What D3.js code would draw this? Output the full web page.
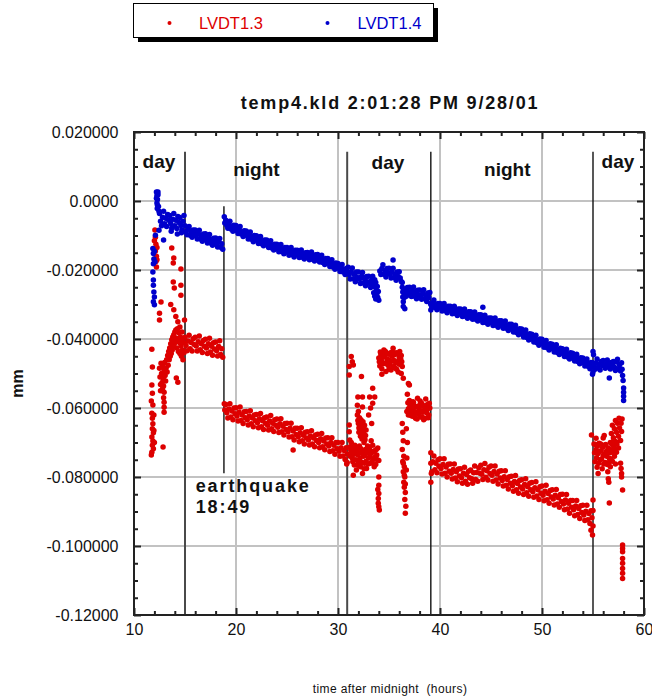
<!DOCTYPE html>
<html>
<head>
<meta charset="utf-8">
<script src="https://cdn.jsdelivr.net/npm/d3@7"></script>
<style>
  body { margin: 0; background: #fff; }
  svg { display: block; font-family: Arial, "Liberation Sans", Helvetica, sans-serif; }
</style>
</head>
<body>
<svg id="chart" width="652" height="700"></svg>
<script>
// LVDT displacement log, file temp4.kld.
// Displacements are in micrometres; hours are counted from midnight.
// Continuous logging runs: [first hour, readings taken every sampleHours].
const sampleHours = 0.1;
const seriesNames = ["LVDT1.3", "LVDT1.4"];

// ---------- LVDT1.3 (red) ----------
const lvdt13Runs = [
  [15.0, [-39.5,-41.9,-43.4,-40.6,-38.9,-42.8,-41.0,-43.5,-39.9,-41.6,
          -39.5,-42.0,-43.5,-40.8,-39.1,-43.1,-41.4,-43.9,-40.4,-42.1,
          -40.1,-42.6,-44.2,-41.4,-39.8,-43.8,-42.1,-44.7,-41.1,-42.9,
          -40.9,-43.4,-44.9,-42.2,-40.5,-44.5,-42.8,-45.3]],
  [18.9, [-60.6,
          -59.0,-61.4,-62.9,-60.3,-58.8,-62.6,-60.9,-63.4,-60.0,-61.7,
          -59.9,-62.3,-63.8,-61.2,-59.7,-63.6,-62.0,-64.5,-61.1,-62.8,
          -61.0,-63.4,-64.9,-62.3,-60.8,-64.6,-62.9,-65.4,-62.0,-63.7,
          -61.9,-64.3,-65.7,-63.1,-61.6,-65.4,-63.7,-66.2,-62.8,-64.4,
          -62.6,-65.0,-66.4,-63.8,-62.2,-66.0,-64.4,-66.8,-63.4,-65.0,
          -63.2,-65.6,-67.1,-64.6,-63.1,-66.9,-65.3,-67.8,-64.5,-66.2,
          -64.4,-66.9,-68.4,-65.9,-64.4,-68.3,-66.7,-69.3,-65.9,-67.7,
          -65.9,-68.3,-69.8,-67.2,-65.7,-69.5,-67.9,-70.4,-67.0,-68.7,
          -66.9,-69.3,-70.7,-68.1,-66.6,-70.4,-68.7,-71.2,-67.8,-69.4,
          -67.6,-70.0,-71.5,-68.9,-67.4,-71.2,-69.6,-72.1,-68.7,-70.4,
          -68.6,-71.0,-72.6,-70.0,-68.6,-72.4,-70.8,-73.4,-70.0,-71.8,
          -70.0,-72.5,-74.0,-71.5,-70.0,-73.9,-72.3,-74.9,-71.5,-73.3]],
  [39.2, [-78.5,-75.6,-73.9,-77.9,-76.0,-78.8,-75.0,-76.9,
          -74.7,-77.5,-79.1,-76.4,-74.7,-78.9,-77.1,-80.0,-76.3,-78.3,
          -76.2,-78.9,-80.6,-77.8,-76.2,-80.3,-78.5,-81.4,-77.7,-79.7,
          -77.6,-80.2,-81.8,-78.9,-77.2,-81.2,-79.3,-82.1,-78.3,-80.2,
          -78.0,-80.5,-81.8,-78.8,-76.8,-80.7,-78.7,-81.2,-77.3,-78.9,
          -76.6,-79.2,-80.7,-77.9,-76.1,-80.1,-78.2,-80.9,-77.2,-79.0,
          -76.8,-79.5,-81.2,-78.4,-76.8,-80.9,-79.1,-82.0,-78.3,-80.3,
          -78.2,-81.0,-82.6,-79.9,-78.2,-82.4,-80.7,-83.5,-79.9,-81.8,
          -79.8,-82.5,-84.1,-81.3,-79.6,-83.7,-81.9,-84.7,-81.0,-82.9,
          -80.8,-83.5,-85.1,-82.2,-80.5,-84.6,-82.8,-85.6,-81.8,-83.7,
          -81.6,-84.3,-85.9,-83.1,-81.4,-85.5,-83.7,-86.5,-82.8,-84.7,
          -82.6,-85.3,-86.9,-84.1,-82.4,-86.6,-84.8,-87.6,-83.9,-85.8,
          -83.7,-86.4,-88.1,-85.3,-83.6,-87.8,-86.0,-88.8,-85.1,-87.1,
          -85.0,-87.8,-89.5,-86.7,-85.1,-89.3,-87.6,-90.5,-86.8,-88.8,
          -86.8,-89.5,-91.2,-88.4,-86.8,-90.9,-89.1,-92.0,-88.3,-90.3,
          -88.2,-91.0,-92.6,-89.9,-88.2,-92.4,-90.6,-93.5,-89.8,-91.8,
          -89.7]]
];

// individual LVDT1.3 readings outside the steady runs: [hour, um]
const lvdt13Scatter = [
  [11.75,-43.0],[11.8,-48.1],[11.75,-53.3],[11.8,-55.7],[11.85,-59.1],[11.75,-61.5],[11.8,-63.0],[11.85,-64.6],
  [11.8,-66.0],[11.9,-67.2],[11.75,-68.4],[11.85,-69.6],[11.8,-70.8],[11.9,-71.8],[11.75,-72.8],[11.95,-66.5],
  [11.95,-62.0],[11.7,-58.0],[11.7,-73.6],[12.0,-70.0],
  [12.05,-8.4],[12.1,-10.5],[12.15,-12.5],[12.1,-14.5],[12.2,-16.0],[12.15,-17.5],[12.2,-19.1],[12.25,-13.5],
  [12.0,-11.5],[12.25,-17.0],
  [12.5,-48.5],[12.55,-51.0],[12.6,-53.2],[12.65,-47.0],[12.7,-50.0],[12.75,-52.6],[12.8,-48.0],[12.85,-51.4],
  [12.9,-53.6],[12.95,-49.2],[13.0,-46.8],[13.05,-50.6],[13.1,-52.2],[13.15,-48.4],[13.2,-46.0],[13.25,-49.6],
  [13.3,-44.8],[13.35,-47.6],[13.4,-43.6],[12.6,-55.0],[12.8,-54.4],
  [13.45,-46.0],[13.5,-42.6],[13.55,-45.0],[13.6,-41.4],[13.65,-44.2],[13.7,-40.2],[13.75,-43.2],[13.8,-39.4],
  [13.85,-42.2],[13.9,-38.8],[13.95,-41.4],[14.0,-38.0],[14.05,-40.8],[14.1,-37.4],[14.15,-39.8],[14.2,-42.6],
  [14.25,-37.0],[14.3,-40.0],[14.35,-43.6],[14.4,-38.2],[14.45,-41.0],[14.5,-44.2],[14.55,-39.4],[14.6,-42.0],
  [14.65,-45.0],[14.7,-40.0],[14.75,-43.2],[14.8,-46.0],[14.85,-41.0],[14.9,-44.0],
  [13.6,-30.0],[13.9,-31.5],[14.1,-33.5],[14.3,-35.0],[14.5,-36.5],[14.7,-38.0],[13.7,-13.6],[13.9,-16.5],
  [13.85,-18.0],[13.85,-23.5],[13.95,-25.2],[14.6,-19.7],[14.6,-24.4],[14.6,-27.3],[12.65,-29.3],[12.5,-34.5],
  [14.95,-34.5],[12.5,-32.5],
  [12.95,-55.4],[12.95,-58.3],[12.95,-61.2],[14.15,-51.3],[14.3,-52.5],[12.85,-71.3],[12.9,-57.0],[12.95,-59.8],
  [18.85,-58.8],[25.6,-72.2],[30.9,-75.8],[30.85,-76.2],
  // second day
  [31.3,-45.1],[31.4,-46.6],[31.1,-48.0],[31.5,-47.5],[31.1,-50.4],[32.3,-50.9],
  [31.1,-64.9],[31.1,-66.9],[31.15,-69.3],[31.2,-71.2],[31.25,-72.2],
  [31.3,-70.0],[31.4,-74.5],[31.5,-71.5],[31.6,-76.5],[31.7,-72.5],[31.8,-78.0],[31.9,-73.5],[32.0,-75.5],
  [32.1,-71.0],[32.2,-77.0],[32.3,-73.0],[32.4,-79.0],[32.5,-74.0],[32.6,-76.0],[32.7,-72.0],[32.8,-77.5],
  [31.5,-79.5],[31.2,-74.0],
  [31.35,-72.8],[31.45,-75.6],[31.55,-73.4],[31.65,-70.8],[31.75,-75.0],[31.85,-72.0],[31.95,-76.6],[32.05,-73.2],
  [32.15,-74.6],[32.25,-71.8],[32.35,-75.8],[32.45,-72.6],[32.55,-77.6],[32.65,-73.8],[32.75,-75.4],[32.85,-73.0],
  [32.95,-76.2],[33.05,-71.4],[33.15,-74.0],[33.35,-75.6],[33.45,-72.6],[33.65,-74.2],[33.75,-72.0],[33.85,-75.0],
  [31.95,-56.8],[32.4,-56.8],[31.9,-59.2],[32.4,-59.7],
  [31.9,-62.0],[32.0,-64.5],[32.05,-67.0],[32.1,-62.8],[32.15,-65.6],[32.2,-68.2],[32.25,-63.4],[32.3,-66.4],
  [32.35,-69.0],[32.45,-64.0],[32.5,-67.2],[32.55,-70.0],[32.6,-65.0],[32.7,-68.0],[32.0,-61.0],
  [31.95,-63.6],[32.05,-65.8],[32.15,-63.8],[32.25,-66.8],[32.35,-64.6],[32.45,-67.8],[32.55,-66.0],[32.65,-69.2],
  [32.75,-66.4],
  [32.9,-71.0],[33.0,-74.5],[33.1,-72.0],[33.2,-76.0],[33.3,-73.0],[33.4,-70.8],[33.5,-74.8],[33.6,-72.4],
  [33.7,-76.4],[33.8,-73.6],[33.9,-71.6],[34.0,-75.2],[33.25,-69.5],[33.55,-77.0],
  [33.4,-54.3],[33.1,-56.8],[33.4,-58.6],[33.6,-56.8],[33.0,-62.0],[33.2,-60.0],[33.3,-64.5],
  [34.0,-80.0],[34.0,-82.4],[34.0,-84.8],[33.95,-86.2],[33.95,-87.6],[34.0,-88.6],[34.05,-89.6],[33.9,-83.6],
  [34.0,-45.5],[34.1,-47.8],[34.2,-44.6],[34.3,-48.6],[34.4,-45.2],[34.5,-43.2],[34.6,-47.0],[34.7,-49.4],
  [34.8,-45.8],[34.9,-47.6],[35.0,-44.4],[35.1,-46.8],[35.2,-49.0],[35.3,-45.0],[35.4,-42.7],[35.5,-46.2],
  [35.6,-48.4],[35.7,-44.0],[35.8,-46.6],[35.9,-49.6],[36.0,-45.4],[36.1,-47.4],[36.2,-44.8],[36.3,-48.0],
  [34.3,-50.2],[35.0,-48.8],
  [34.05,-46.6],[34.15,-43.8],[34.25,-46.2],[34.35,-44.0],[34.45,-47.2],[34.55,-45.0],[34.65,-43.6],[34.75,-47.0],
  [34.85,-44.2],[34.95,-46.0],[35.05,-47.4],[35.15,-44.0],[35.25,-46.4],[35.35,-43.8],[35.45,-48.0],[35.55,-44.6],
  [35.65,-46.8],[35.75,-48.8],[35.85,-44.2],[35.95,-47.2],[36.05,-43.6],[36.15,-45.8],[36.25,-46.6],
  [36.2,-50.0],[36.4,-51.4],[36.9,-52.9],[37.0,-53.3],
  [36.3,-64.5],[36.35,-67.0],[36.4,-69.5],[36.3,-72.0],[36.45,-74.0],[36.35,-75.5],[36.5,-77.0],[36.4,-78.5],
  [36.55,-80.0],[36.45,-81.5],[36.5,-83.0],[36.6,-84.5],[36.55,-86.5],[36.65,-88.5],[36.6,-90.5],[36.4,-76.0],
  [36.5,-79.5],[36.6,-82.0],[36.7,-78.0],[36.75,-74.5],[36.8,-70.0],[36.7,-66.0],[36.8,-56.0],[36.85,-58.5],
  [36.9,-62.0],[36.75,-61.0],
  [36.9,-60.2],[37.0,-57.8],[37.1,-61.6],[37.2,-59.0],[37.3,-62.4],[37.4,-58.4],[37.5,-61.0],[37.6,-63.0],
  [37.7,-59.6],[37.8,-57.2],[37.9,-61.8],[38.0,-59.2],[38.1,-62.6],[38.2,-58.6],[38.3,-61.2],[38.4,-63.4],
  [38.5,-59.8],[38.6,-57.4],[38.7,-61.4],[38.8,-59.0],[38.9,-62.0],[39.0,-60.0],
  [36.95,-61.0],[37.05,-59.4],[37.15,-62.2],[37.25,-60.4],[37.35,-58.2],[37.45,-62.0],[37.55,-59.6],[37.65,-61.4],
  [37.75,-63.2],[37.85,-59.8],[37.95,-60.6],[38.05,-58.0],[38.15,-60.8],[38.25,-62.6],[38.35,-59.4],[38.45,-61.0],
  [38.55,-63.0],[38.65,-59.2],[38.75,-60.4],[38.85,-62.8],[38.95,-58.6],
  [39.1,-73.0],[39.1,-76.0],[39.15,-79.0],[39.1,-81.5],
  [54.8,-95.4],[54.95,-96.8],[55.0,-94.2],[55.0,-86.7],[54.85,-67.8],
  // third day
  [55.1,-70.4],[55.2,-75.6],[55.3,-72.0],[55.4,-77.2],[55.5,-73.2],[55.6,-70.2],[55.7,-75.0],[55.8,-72.4],
  [55.9,-77.6],[56.0,-73.8],[56.1,-70.8],[56.2,-75.8],[56.3,-72.6],[56.4,-76.4],[56.5,-71.6],[56.6,-74.6],
  [56.7,-77.0],[56.8,-72.2],[56.9,-75.4],[57.0,-71.0],[57.1,-74.0],[57.2,-76.2],[57.3,-72.8],[55.3,-68.8],
  [56.0,-68.7],[55.5,-79.0],
  [55.15,-73.0],[55.25,-70.6],[55.35,-74.4],[55.45,-71.0],[55.55,-76.0],[55.65,-72.6],[55.75,-70.4],[55.85,-74.8],
  [55.95,-71.4],[56.05,-76.2],[56.15,-73.4],[56.25,-70.6],[56.35,-74.0],[56.45,-72.2],[56.55,-75.8],[56.65,-73.0],
  [56.75,-74.8],[56.85,-70.4],[56.95,-72.8],[57.05,-69.4],[57.15,-71.8],[57.25,-69.8],[57.35,-70.4],
  [56.7,-70.0],[56.8,-67.4],[56.9,-65.0],[57.0,-68.6],[57.1,-66.0],[57.2,-63.6],[57.3,-67.0],[57.4,-64.4],
  [57.5,-68.2],[57.55,-63.0],[57.6,-65.8],[57.7,-69.4],[57.75,-64.4],[57.8,-66.8],[57.85,-63.2],[57.5,-71.6],
  [56.1,-68.0],
  [56.45,-78.5],[56.5,-80.5],[56.55,-81.5],[56.6,-87.5],[57.7,-76.0],[57.75,-77.5],[57.8,-79.0],[57.8,-80.0],
  [57.9,-83.8],
  [57.9,-99.7],[57.9,-100.7],[57.9,-101.7],[57.9,-103.6],[57.9,-105.0],[57.9,-106.5],[57.9,-107.9],[57.9,-109.4]
];

// ---------- LVDT1.4 (blue) ----------
const lvdt14Runs = [
  [12.5, [-3.6,-5.9,-7.2,-4.7,-3.0,-6.6,-5.0,-7.4,-3.9,-5.6,
          -4.2,-6.5,-7.8,-5.3,-3.6,-7.2,-5.6,-8.0,-4.5,-6.2,
          -4.8,-7.1,-8.4,-5.9,-4.2]],
  [15.0, [-7.2,-8.9,-9.8,-8.2,-7.4,-9.9,-8.9,-10.5,-8.4,-9.5,
          -8.4,-10.1,-11.0,-9.4,-8.5,-11.0,-10.1,-11.7,-9.6,-10.7,
          -9.5,-11.2,-12.2,-10.6,-9.7,-12.2,-11.2,-12.8,-10.8,-11.9,
          -10.7,-12.4,-13.3,-11.7,-10.9,-13.4,-12.4,-14.0]],
  [18.9, [-6.4,
          -5.6,-7.1,-7.9,-6.7,-5.9,-8.1,-7.3,-8.8,-7.0,-8.1,
          -7.1,-8.6,-9.4,-8.2,-7.4,-9.6,-8.9,-10.3,-8.6,-9.6,
          -8.7,-10.1,-11.0,-9.7,-9.0,-11.1,-10.3,-11.8,-10.0,-11.1,
          -10.1,-11.5,-12.3,-11.1,-10.3,-12.4,-11.6,-13.0,-11.3,-12.3,
          -11.3,-12.7,-13.5,-12.3,-11.5,-13.6,-12.8,-14.2,-12.5,-13.5,
          -12.5,-13.9,-14.7,-13.4,-12.6,-14.7,-13.9,-15.3,-13.5,-14.5,
          -13.5,-14.9,-15.7,-14.3,-13.5,-15.6,-14.8,-16.2,-14.3,-15.3,
          -14.3,-15.7,-16.4,-15.1,-14.2,-16.3,-15.5,-16.8,-15.0,-15.9,
          -14.9,-16.3,-17.0,-15.7,-14.8,-16.9,-16.1,-17.4,-15.6,-16.5,
          -15.5,-16.9,-17.7,-16.5,-15.7,-17.8,-17.0,-18.4,-16.7,-17.7,
          -16.7,-18.1,-19.0,-17.7,-17.0,-19.1,-18.3,-19.8,-18.0,-19.1,
          -18.1,-19.6,-20.4,-19.2,-18.4,-20.6,-19.9,-21.3,-19.6,-20.6,
          -19.2,-21.3,-22.6,-20.5,-19.4,-22.5,-21.2,-23.4,-20.6,-22.2,
          -20.6,-22.7,-23.9,-21.9,-20.7,-23.8,-22.5,-24.6,-21.9,-23.4,
          -21.8,-23.9,-25.1,-23.0,-21.8]],
  [34.1, [-20.3,-21.3,-19.6,-18.5,-21.2,-20.2,-22.0,-19.6,-20.9,
          -19.5,-21.3,-22.3,-20.6,-19.5,-22.2,-21.2,-23.0,-20.6,-21.9,
          -20.5,-22.3,-23.3]],
  [36.5, [-26.8,-25.8,-27.6,-25.1,-26.4,
          -25.0,-26.8,-27.7,-26.0,-24.9,-27.6,-26.5,-28.3,-25.9,-27.2,
          -25.8,-27.5,-28.5,-26.8,-25.7,-28.3,-27.3,-29.1,-26.7,-28.0,
          -26.5]],
  [39.1, [-30.0,-30.8,-29.5,-28.7,-30.9,-30.1,-31.5,-29.7,-30.7,
          -29.7,-31.1,-31.9,-30.5,-29.7,-31.8,-31.0,-32.4,-30.5,-31.5,
          -30.5,-31.9,-32.7,-31.3,-30.5,-32.6,-31.8,-33.2,-31.3,-32.3,
          -31.3,-32.7,-33.5,-32.1,-31.3,-33.4,-32.6,-34.0,-32.1,-33.1,
          -32.1,-33.5,-34.3,-33.0,-32.2,-34.3,-33.4,-34.8,-33.0,-34.0,
          -33.0,-34.4,-35.2,-33.9,-33.1,-35.2,-34.3,-35.7,-33.9,-34.9,
          -33.9,-35.3,-36.1,-34.7,-33.9,-36.0,-35.2,-36.6,-34.7,-35.7,
          -34.7,-36.1,-36.9,-35.6,-34.8,-36.9,-36.1,-37.5,-35.7,-36.7,
          -35.7,-37.1,-38.0,-36.7,-36.0,-38.1,-37.3,-38.8,-37.0,-38.1,
          -37.1,-38.6,-39.4,-38.2,-37.4,-39.6,-38.8,-40.3,-38.5,-39.6,
          -38.6,-40.1,-40.9,-39.7,-38.9,-41.1,-40.3,-41.8,-40.0,-41.1,
          -40.1,-41.5,-42.4,-41.1,-40.4,-42.5,-41.7,-43.2,-41.4,-42.5,
          -41.5,-42.9,-43.8,-42.5,-41.7,-43.9,-43.1,-44.5,-42.7,-43.8,
          -42.8,-44.2,-45.1,-43.8,-43.0,-45.2,-44.4,-45.8,-44.0,-45.1,
          -44.1,-45.5,-46.4,-45.1,-44.4,-46.5,-45.7,-47.2,-45.4,-46.5,
          -45.5,-46.9,-47.8,-46.5,-45.8,-47.9,-47.1,-48.6,-46.8,-47.9,
          -46.9]],
  [55.1, [-47.9,-48.8,-47.0,-45.8,-48.4,-47.3,-49.0,-46.5,-47.7,
          -46.2,-47.6,-48.5,-47.3,-46.1,-48.1,-47.0,-48.7,-46.8,-47.4,
          -46.5,-48.2,-49.1,-46.7,-45.9,-48.6,-47.5,-49.3,-46.9]]
];

// individual LVDT1.4 readings outside the steady runs: [hour, um]
const lvdt14Scatter = [
  [12.2,2.6],[12.25,1.6],[12.3,0.4],[12.25,-0.6],[12.35,1.8],[12.3,-1.2],[12.4,-1.6],[12.2,0.8],
  [12.35,2.6],[12.45,-3.0],[12.28,-2.2],
  [11.85,-13.8],[11.9,-15.2],[11.95,-16.8],[11.9,-18.2],[12.0,-14.6],[12.05,-17.6],[12.1,-9.9],[11.85,-20.6],
  [11.9,-22.9],[11.9,-24.4],[11.95,-26.4],[12.0,-27.8],[11.9,-29.2],[12.0,-30.1],[12.9,-11.3],[12.45,-8.5],
  [14.25,-9.6],[13.65,-8.8],[14.65,-9.2],[18.85,-4.6],
  [33.5,-26.6],[33.55,-24.4],[33.6,-27.6],[33.65,-25.0],[33.7,-28.4],[33.75,-26.0],[33.8,-27.2],[33.85,-24.8],
  [33.9,-28.0],[33.95,-26.2],[34.0,-28.8],[33.5,-23.4],[33.6,-22.8],[33.7,-23.6],
  [35.4,-17.1],
  [36.3,-23.6],[36.3,-25.0],[36.35,-26.4],[36.35,-27.8],[36.4,-29.2],[36.4,-30.6],[36.45,-25.6],[36.5,-28.0],
  [36.55,-31.2],
  [39.05,-29.6],[39.1,-31.6],[44.2,-30.8],
  [54.95,-50.2],[55.0,-49.6],[55.0,-43.6],[55.05,-44.6],[56.6,-51.3],[57.85,-48.8],[57.9,-50.6],[57.95,-52.0],
  [58.0,-54.2],[58.0,-55.4],[58.0,-56.6],[58.0,-57.8]
];

// Axis ticks (mm on y, hours on x)
const yTickValues = [0.02, 0, -0.02, -0.04, -0.06, -0.08, -0.10, -0.12];
const yTickLabels = ["0.020000", "0.0000", "-0.020000", "-0.040000", "-0.060000", "-0.080000", "-0.100000", "-0.12000"];
const xTickValues = [10, 20, 30, 40, 50, 60];
const xTickLabels = ["10", "20", "30", "40", "50", "60"];

// Day/night boundaries (hours) and the earthquake time
const boundaryHours = [15.0, 30.9, 39.1, 55.0];
const earthquakeHour = 18 + 49 / 60;
const periodNames = ["day", "night", "day", "night", "day"];
const periodLabelHours = [12.45, 22.0, 34.9, 46.6, 57.45];

// ---------------------------------------------------------------
const colors = { red: "#dd0000", blue: "#0000cc" };
const svg = d3.select("#chart");

const plot = { left: 134, right: 644, top: 132, bottom: 615 };
const x = d3.scaleLinear().domain([10, 60]).range([plot.left, plot.right]);
const y = d3.scaleLinear().domain([-0.12, 0.02]).range([plot.bottom, plot.top]);

function readings(runs, scatter) {
  const pts = [];
  runs.forEach(([start, vals]) => vals.forEach((v, i) => pts.push([start + i * sampleHours, v])));
  return pts.concat(scatter);
}

// grid
const grid = svg.append("g").attr("stroke", "#c2c2c2").attr("stroke-width", 2);
xTickValues.slice(1, -1).forEach(v => {
  grid.append("line").attr("x1", x(v)).attr("x2", x(v)).attr("y1", plot.top).attr("y2", plot.bottom);
});
yTickValues.slice(1, -1).forEach(v => {
  grid.append("line").attr("x1", plot.left).attr("x2", plot.right).attr("y1", y(v)).attr("y2", y(v));
});

// day / night boundaries and the earthquake marker
const bounds = svg.append("g");
boundaryHours.forEach((h, i) => {
  bounds.append("line")
    .attr("x1", x(h)).attr("x2", x(h))
    .attr("y1", y(0.0143)).attr("y2", y(-0.12))
    .attr("stroke", i < 2 ? "#4a4a4a" : "#111")
    .attr("stroke-width", i < 2 ? 2 : 1.4);
});
bounds.append("line")
  .attr("x1", x(earthquakeHour)).attr("x2", x(earthquakeHour))
  .attr("y1", y(-0.0015)).attr("y2", y(-0.0789))
  .attr("stroke", "#111").attr("stroke-width", 1.4);

// readings (um -> mm)
function drawSeries(data, color) {
  svg.append("g").attr("fill", color)
    .selectAll("circle").data(data).join("circle")
    .attr("cx", d => x(d[0]))
    .attr("cy", d => y(d[1] / 1000))
    .attr("r", 2.75);
}
drawSeries(readings(lvdt13Runs, lvdt13Scatter), colors.red);
drawSeries(readings(lvdt14Runs, lvdt14Scatter), colors.blue);

// axes: major ticks with labels, minor ticks inside the frame
const majorLen = 7, minorLen = 4;
const minorX = d3.range(10, 60.01, 2).filter(v => v % 10 !== 0);
const minorY = d3.range(-120, 20.01, 5).filter(v => v % 20 !== 0).map(v => v / 1000);

function styleAxis(g) {
  g.select(".domain").remove();
  g.selectAll(".tick line").attr("stroke", "#222").attr("stroke-width", 2);
  g.selectAll(".tick text").attr("fill", "#111").attr("font-size", 16)
    .attr("font-family", "Arial, 'Liberation Sans', Helvetica, sans-serif");
}

[
  { gen: d3.axisBottom(x), t: `translate(0,${plot.bottom})`, vals: xTickValues, labels: xTickLabels, pad: 8.5 },
  { gen: d3.axisTop(x), t: `translate(0,${plot.top})`, vals: xTickValues },
  { gen: d3.axisLeft(y), t: `translate(${plot.left},0)`, vals: yTickValues, labels: yTickLabels, pad: 15.5 },
  { gen: d3.axisRight(y), t: `translate(${plot.right},0)`, vals: yTickValues }
].forEach(a => {
  svg.append("g").attr("transform", a.t)
    .call(a.gen.tickValues(a.vals).tickSizeInner(-majorLen).tickSizeOuter(0)
      .tickPadding(a.pad || 3)
      .tickFormat((d, i) => a.labels ? a.labels[i] : ""))
    .call(styleAxis);
});
[
  [d3.axisBottom(x), `translate(0,${plot.bottom})`, minorX],
  [d3.axisTop(x), `translate(0,${plot.top})`, minorX],
  [d3.axisLeft(y), `translate(${plot.left},0)`, minorY],
  [d3.axisRight(y), `translate(${plot.right},0)`, minorY]
].forEach(([gen, t, vals]) => {
  svg.append("g").attr("transform", t)
    .call(gen.tickValues(vals).tickSizeInner(-minorLen).tickSizeOuter(0).tickFormat(""))
    .call(styleAxis);
});

// frame
svg.append("rect")
  .attr("x", plot.left).attr("y", plot.top)
  .attr("width", plot.right - plot.left).attr("height", plot.bottom - plot.top)
  .attr("fill", "none").attr("stroke", "#222").attr("stroke-width", 2);

// period labels
const periodBaselines = [168, 176, 169, 176, 168];
svg.append("g")
  .selectAll("text").data(periodNames).join("text")
  .attr("x", (d, i) => x(periodLabelHours[i]))
  .attr("y", (d, i) => periodBaselines[i])
  .attr("text-anchor", "middle")
  .attr("font-size", 19).attr("font-weight", "bold").attr("fill", "#111")
  .text(d => d);

// earthquake annotation
const eq = svg.append("text")
  .attr("font-size", 18).attr("font-weight", "bold").attr("fill", "#111")
  .attr("letter-spacing", 1.9);
eq.append("tspan").attr("x", x(16.05)).attr("y", 492).text("earthquake");
eq.append("tspan").attr("x", x(16.05)).attr("y", 513).text("18:49");

// title
svg.append("text")
  .attr("x", (plot.left + plot.right) / 2 + 1).attr("y", 109)
  .attr("text-anchor", "middle")
  .attr("font-size", 18).attr("font-weight", "bold").attr("fill", "#111")
  .attr("letter-spacing", 1.8)
  .text("temp4.kld 2:01:28 PM 9/28/01");

// axis titles
svg.append("text")
  .attr("transform", "translate(23,383.5) rotate(-90)")
  .attr("text-anchor", "middle")
  .attr("font-size", 16).attr("font-weight", "bold").attr("fill", "#111")
  .text("mm");
svg.append("text")
  .attr("x", 390).attr("y", 693)
  .attr("text-anchor", "middle")
  .attr("xml:space", "preserve")
  .style("white-space", "pre")
  .attr("font-size", 12).attr("letter-spacing", 0.4).attr("fill", "#111")
  .text("time after midnight  (hours)");

// legend
const legend = svg.append("g");
legend.append("rect").attr("x", 138).attr("y", 8).attr("width", 300).attr("height", 34).attr("fill", "#000");
legend.append("rect").attr("x", 133.5).attr("y", 3.5).attr("width", 300).attr("height", 34)
  .attr("fill", "#fff").attr("stroke", "#000").attr("stroke-width", 1);
const legendItems = [
  { name: seriesNames[0], color: colors.red, dot: 169.5, text: 199 },
  { name: seriesNames[1], color: colors.blue, dot: 327.5, text: 357.5 }
];
legendItems.forEach(it => {
  legend.append("circle").attr("cx", it.dot).attr("cy", 23).attr("r", 2).attr("fill", it.color);
  legend.append("text").attr("x", it.text).attr("y", 28.5)
    .attr("font-size", 16.5).attr("fill", it.color).text(it.name);
});
</script>
</body>
</html>
